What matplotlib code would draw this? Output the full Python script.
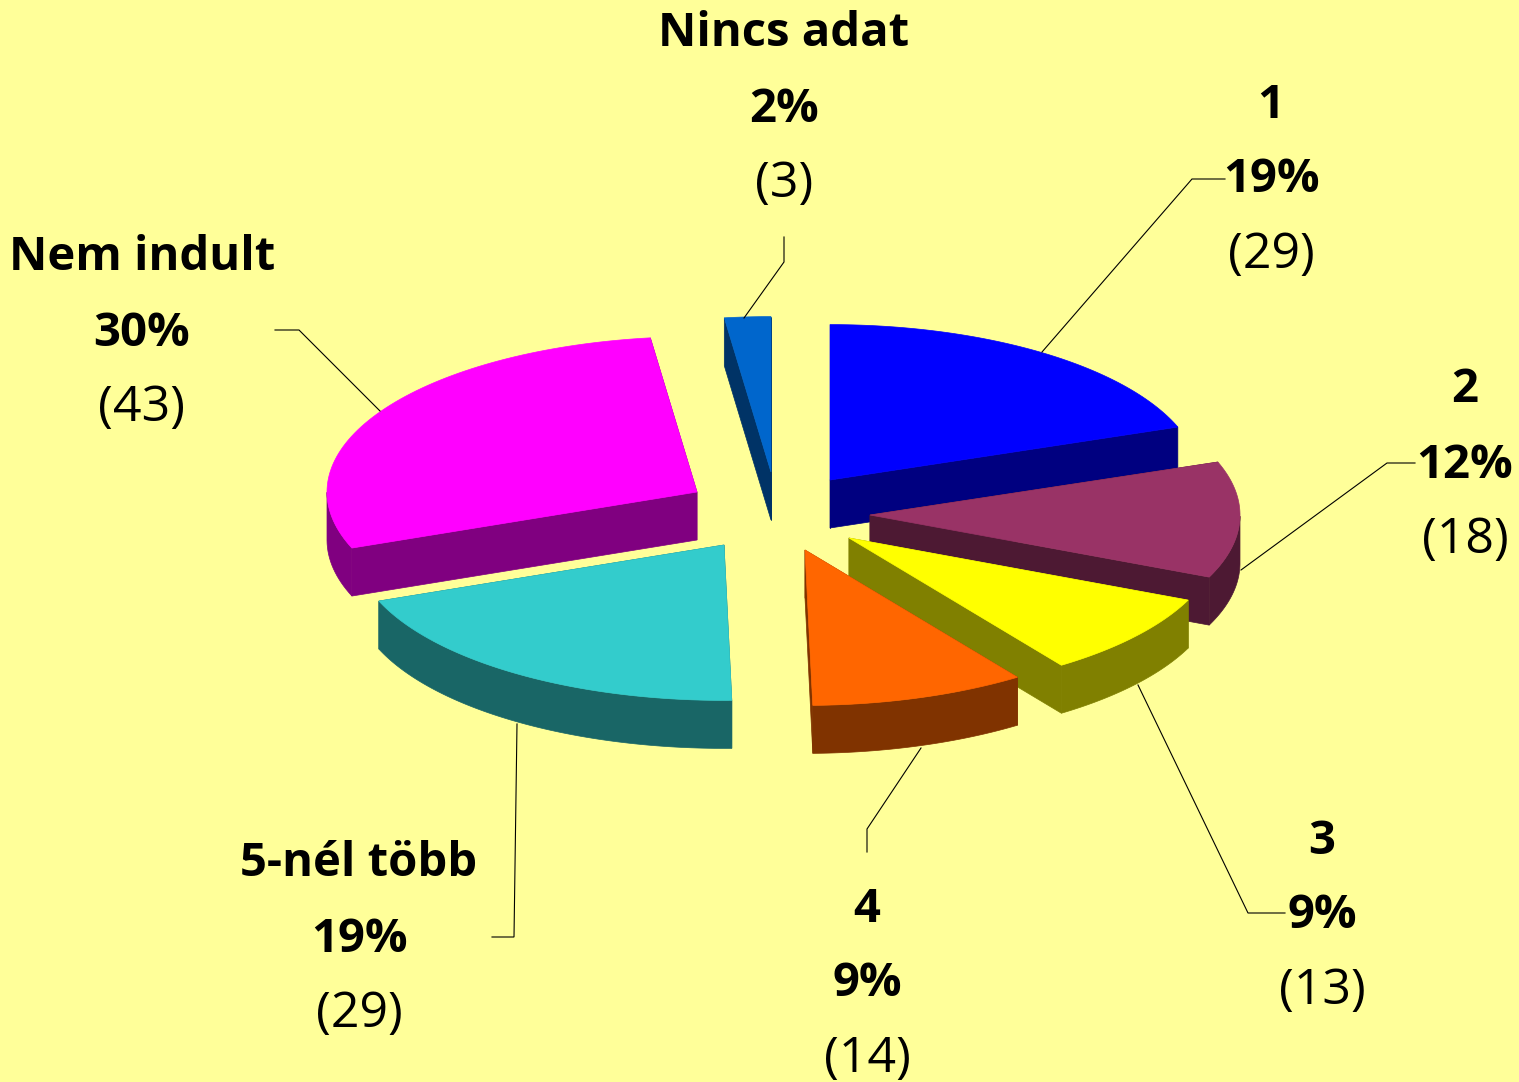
import numpy as np
import matplotlib
matplotlib.use("Agg")
import matplotlib.pyplot as plt
from matplotlib.patches import Polygon

categories = ["1", "2", "3", "4", "5-nél több", "Nem indult", "Nincs adat"]
counts = [29, 18, 13, 14, 29, 43, 3]
percents = [19, 12, 9, 9, 19, 30, 2]

top_colors = ["#0000FF", "#993366", "#FFFF00", "#FF6600", "#33CCCC", "#FF00FF", "#0066CC"]
side_colors = ["#000080", "#4D1933", "#808000", "#803300", "#196666", "#800080", "#003366"]

# pie geometry, in picture pixels
RADIUS = 370
SQUASH = 0.42
DEPTH = 48

# where each exploded slice has its tip
apexes = [(830, 480), (870, 515), (849, 538), (805, 550), (724, 545), (697, 492), (771, 472)]

# label anchor (x, y of the first line) and leader line for each slice
label_pos = [(1271, 105), (1465, 390), (1322, 841), (867, 909), (359, 864), (142, 258), (784, 34)]
leaders = [
    [(1225, 179), (1192, 179), (1042, 352)],
    [(1415, 463), (1387, 463), (1241, 570)],
    [(1285, 913), (1248, 913), (1138, 685)],
    [(867, 852), (867, 829), (921, 748)],
    [(492, 937), (514, 937), (517, 724)],
    [(275, 330), (299, 330), (380, 411)],
    [(784, 237), (784, 262), (744, 318)],
]
LINE_GAP = 75
FONT = "Open Sans"


def rim(apex, deg):
    """Point on the slice rim, angle clockwise from 12 o'clock."""
    a = np.radians(deg)
    return apex[0] + RADIUS * np.sin(a), apex[1] - RADIUS * SQUASH * np.cos(a)


def draw_slice(ax, start, end, apex, top, side):
    angles = np.linspace(start, end, 80)
    arc = [rim(apex, d) for d in angles]

    # cut faces first, the top covers the ones facing away
    for p in (arc[0], arc[-1]):
        quad = [apex, p, (p[0], p[1] + DEPTH), (apex[0], apex[1] + DEPTH)]
        ax.add_patch(Polygon(quad, fc=side, ec=side, lw=0.5))

    # outer wall, only the front half of the rim
    front = [q for q, d in zip(arc, angles) if 90 <= d <= 270]
    if front:
        wall = front + [(x, y + DEPTH) for x, y in front[::-1]]
        ax.add_patch(Polygon(wall, fc=side, ec=side, lw=0.5))

    ax.add_patch(Polygon([apex] + arc, fc=top, ec=top, lw=0.5))


fig = plt.figure(figsize=(15.19, 10.82), dpi=100, facecolor="#FFFF99")
ax = fig.add_axes([0, 0, 1, 1])
ax.set_xlim(0, 1519)
ax.set_ylim(1082, 0)
ax.axis("off")

edges = np.concatenate([[0], np.cumsum(counts)]) / sum(counts) * 360

for i in [0, 6, 5, 1, 2, 3, 4]:
    draw_slice(ax, edges[i], edges[i + 1], apexes[i], top_colors[i], side_colors[i])

for line in leaders:
    xs, ys = zip(*line)
    ax.plot(xs, ys, color="black", lw=0.8, solid_joinstyle="miter")

for name, pct, n, (x, y) in zip(categories, percents, counts, label_pos):
    ax.text(x, y, name, ha="center", va="center", fontsize=34, fontweight="bold", family=FONT)
    ax.text(x, y + LINE_GAP, f"{pct}%", ha="center", va="center", fontsize=34, fontweight="bold", family=FONT)
    ax.text(x, y + 2 * LINE_GAP, f"({n})", ha="center", va="center", fontsize=36, family=FONT)

fig.savefig("out.png", dpi=100, facecolor=fig.get_facecolor())
